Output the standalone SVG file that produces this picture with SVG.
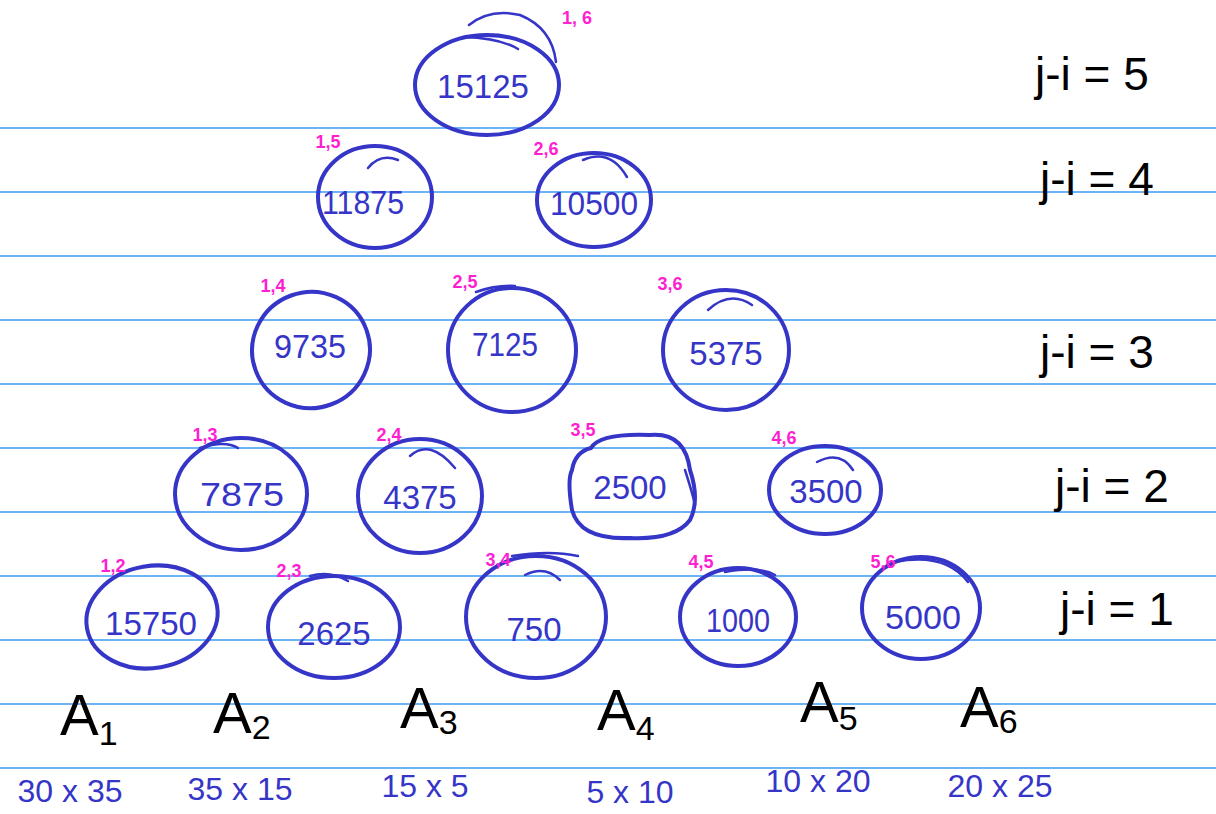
<svg xmlns="http://www.w3.org/2000/svg" width="1216" height="814" viewBox="0 0 1216 814">
<style>
.rule{stroke:#3a9cf5;stroke-width:1.5}
.node ellipse{fill:none;stroke:#3535c8;stroke-width:4}
.arc{fill:none;stroke:#3535c8;stroke-width:2.5;stroke-linecap:round}
.val{font-family:"Liberation Sans",Arial,sans-serif;font-size:33px;fill:#3535c8;text-anchor:middle}
.idx{font-family:"Liberation Sans",Arial,sans-serif;font-size:18px;font-weight:bold;fill:#ff1fd2;text-anchor:middle}
.mat{font-family:"Liberation Sans",Arial,sans-serif;font-size:58px;fill:#000}
.sub{font-size:34px}
.dim{font-family:"Liberation Sans",Arial,sans-serif;font-size:32px;fill:#3535c8;text-anchor:middle}
.diag{font-family:"Liberation Sans",Arial,sans-serif;font-size:46px;fill:#000}
</style>
<rect width="1216" height="814" fill="#fff"/>
<g id="rules">
<line class="rule" x1="0" y1="128" x2="1216" y2="128"/>
<line class="rule" x1="0" y1="192" x2="1216" y2="192"/>
<line class="rule" x1="0" y1="256" x2="1216" y2="256"/>
<line class="rule" x1="0" y1="320" x2="1216" y2="320"/>
<line class="rule" x1="0" y1="384" x2="1216" y2="384"/>
<line class="rule" x1="0" y1="448" x2="1216" y2="448"/>
<line class="rule" x1="0" y1="512" x2="1216" y2="512"/>
<line class="rule" x1="0" y1="576" x2="1216" y2="576"/>
<line class="rule" x1="0" y1="640" x2="1216" y2="640"/>
<line class="rule" x1="0" y1="704" x2="1216" y2="704"/>
<line class="rule" x1="0" y1="768" x2="1216" y2="768"/>
</g>
<g id="connectors"></g>
<g id="n16" class="node"><ellipse cx="487" cy="85" rx="72" ry="50"/><path class="arc" d="M469 25 Q490 8 520 15 Q552 28 556 62"/><path class="arc" d="M463 37 Q500 38 518 49"/><text class="val" x="483" y="98">15125</text><text class="idx" x="577" y="24">1, 6</text></g>
<g id="n15" class="node"><ellipse cx="375" cy="197" rx="57" ry="51"/><path class="arc" d="M368 168 Q380 153 398 160"/><text class="val" x="363" y="214" textLength="82" lengthAdjust="spacingAndGlyphs">11875</text><text class="idx" x="328" y="148">1,5</text></g>
<g id="n26" class="node"><ellipse cx="594" cy="200" rx="57" ry="47"/><path class="arc" d="M583 160 Q610 148 627 177"/><text class="val" x="594" y="215" textLength="88" lengthAdjust="spacingAndGlyphs">10500</text><text class="idx" x="546" y="155">2,6</text></g>
<g id="n14" class="node"><ellipse cx="311" cy="350" rx="59" ry="58" transform="rotate(-20 311 350)"/><text class="val" x="310" y="358" textLength="72" lengthAdjust="spacingAndGlyphs">9735</text><text class="idx" x="273" y="292">1,4</text></g>
<g id="n25" class="node"><ellipse cx="512" cy="350" rx="64" ry="62"/><path class="arc" d="M476 292 Q495 285 515 286"/><text class="val" x="505" y="356" textLength="66" lengthAdjust="spacingAndGlyphs">7125</text><text class="idx" x="465" y="288">2,5</text></g>
<g id="n36" class="node"><ellipse cx="726" cy="350" rx="63" ry="60"/><path class="arc" d="M708 310 Q730 290 752 305"/><text class="val" x="726" y="365">5375</text><text class="idx" x="670" y="290">3,6</text></g>
<g id="n13" class="node"><ellipse cx="241" cy="494" rx="66" ry="56"/><path class="arc" d="M200 448 Q225 440 238 448"/><text class="val" x="242" y="506" textLength="84" lengthAdjust="spacingAndGlyphs">7875</text><text class="idx" x="205" y="441">1,3</text></g>
<g id="n24" class="node"><ellipse cx="420" cy="496" rx="62" ry="57"/><path class="arc" d="M410 456 Q430 438 455 468"/><text class="val" x="420" y="509">4375</text><text class="idx" x="389" y="441">2,4</text></g>
<g id="n35" class="node"><path d="M591 448 Q600 433 650 435 Q685 432 690 470 Q700 500 690 520 Q675 540 630 538 Q580 540 572 510 Q567 480 572 470 Q575 452 591 448 Z" fill="none" stroke="#3535c8" stroke-width="4"/><path class="arc" d="M685 470 Q693 495 695 505"/><text class="val" x="630" y="499">2500</text><text class="idx" x="583" y="436">3,5</text></g>
<g id="n46" class="node"><ellipse cx="825" cy="490" rx="56" ry="44"/><path class="arc" d="M817 462 Q840 450 853 470"/><text class="val" x="826" y="503">3500</text><text class="idx" x="784" y="444">4,6</text></g>
<g id="n12" class="node"><ellipse cx="152" cy="617" rx="66" ry="51" transform="rotate(-10 152 617)"/><text class="val" x="151" y="635" textLength="92" lengthAdjust="spacingAndGlyphs">15750</text><text class="idx" x="113" y="572">1,2</text></g>
<g id="n23" class="node"><ellipse cx="334" cy="627" rx="66" ry="51"/><path class="arc" d="M310 576 Q330 570 348 581"/><text class="val" x="334" y="645">2625</text><text class="idx" x="289" y="577">2,3</text></g>
<g id="n34" class="node"><ellipse cx="536" cy="617" rx="70" ry="61"/><path class="arc" d="M525 575 Q545 565 560 580"/><path class="arc" d="M512 556 Q550 550 578 556"/><text class="val" x="534" y="641">750</text><text class="idx" x="498" y="566">3,4</text></g>
<g id="n45" class="node"><ellipse cx="738" cy="617" rx="58" ry="49"/><path class="arc" d="M725 572 Q760 566 775 575"/><text class="val" x="738" y="632" textLength="64" lengthAdjust="spacingAndGlyphs">1000</text><text class="idx" x="701" y="568">4,5</text></g>
<g id="n56" class="node"><ellipse cx="921" cy="608" rx="59" ry="51"/><path class="arc" d="M895 562 Q945 552 968 582"/><text class="val" x="923" y="629" textLength="76" lengthAdjust="spacingAndGlyphs">5000</text><text class="idx" x="883" y="568">5,6</text></g>
<g id="matrices">
<text class="mat" x="60" y="735">A<tspan class="sub" dy="10">1</tspan></text>
<text class="mat" x="213" y="733">A<tspan class="sub" dy="6">2</tspan></text>
<text class="mat" x="400" y="728">A<tspan class="sub" dy="6">3</tspan></text>
<text class="mat" x="597" y="730">A<tspan class="sub" dy="10">4</tspan></text>
<text class="mat" x="800" y="722">A<tspan class="sub" dy="8">5</tspan></text>
<text class="mat" x="960" y="727">A<tspan class="sub" dy="6">6</tspan></text>
</g>
<g id="dims">
<text class="dim" x="70" y="802">30 x 35</text>
<text class="dim" x="240" y="800">35 x 15</text>
<text class="dim" x="425" y="797">15 x 5</text>
<text class="dim" x="630" y="803">5 x 10</text>
<text class="dim" x="818" y="792">10 x 20</text>
<text class="dim" x="1000" y="797">20 x 25</text>
</g>
<g id="levels">
<text class="diag" x="1035" y="90">j-i = 5</text>
<text class="diag" x="1040" y="195">j-i = 4</text>
<text class="diag" x="1040" y="368">j-i = 3</text>
<text class="diag" x="1055" y="502">j-i = 2</text>
<text class="diag" x="1060" y="625">j-i = 1</text>
</g>
</svg>
